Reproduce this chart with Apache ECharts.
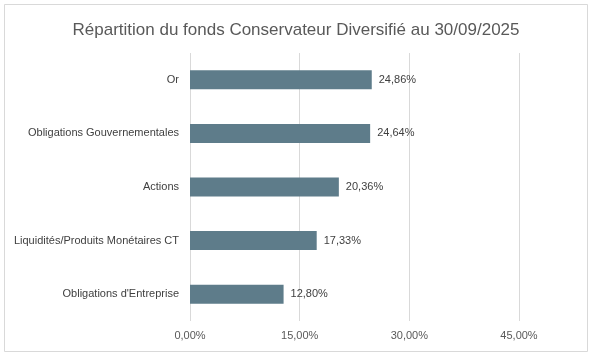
<!DOCTYPE html>
<html><head><meta charset="utf-8">
<script src="https://cdn.jsdelivr.net/npm/echarts@6/dist/echarts.min.js"></script>
<style>html,body{margin:0;padding:0;background:#fff}#c{width:592px;height:356px}</style>
</head><body><div id="c"></div>
<script>
const titleText = 'Répartition du fonds Conservateur Diversifié au 30/09/2025';
const categories = ['Or', 'Obligations Gouvernementales', 'Actions', 'Liquidités/Produits Monétaires CT', "Obligations d'Entreprise"];
const values = [24.86, 24.64, 20.36, 17.33, 12.80];
const tickValues = [0, 15, 30, 45];

const fmt = v => v.toFixed(2).replace('.', ',') + '%';
const FONT = '"Liberation Sans", Arial, sans-serif';

const chart = echarts.init(document.getElementById('c'), null, {renderer: 'canvas'});
chart.setOption({
  animation: false,
  backgroundColor: '#fff',
  title: {
    text: titleText, left: 'center', top: 17,
    textStyle: {fontFamily: FONT, fontSize: 17, fontWeight: 'normal', color: '#595959'}
  },
  graphic: [{
    type: 'rect', shape: {x: 4.5, y: 4.5, width: 583, height: 347},
    style: {fill: 'none', stroke: '#d9d9d9', lineWidth: 1}, silent: true, z: -1
  }],
  grid: {left: 190, right: 73, top: 53, bottom: 35, containLabel: false},
  xAxis: {
    type: 'value', min: 0, max: tickValues[tickValues.length - 1], interval: 15,
    axisLine: {show: false}, axisTick: {show: false},
    splitLine: {show: true, lineStyle: {color: '#d9d9d9', width: 1}},
    axisLabel: {
      formatter: v => fmt(v),
      fontFamily: FONT, fontSize: 11, color: '#595959', margin: 9
    }
  },
  yAxis: {
    type: 'category', data: categories, inverse: true,
    axisLine: {show: false}, axisTick: {show: false},
    axisLabel: {fontFamily: FONT, fontSize: 11, color: '#404040', margin: 11}
  },
  series: [{
    type: 'bar', data: values, barWidth: 19,
    itemStyle: {color: '#5e7c8a'},
    label: {show: true, position: 'right', distance: 7, formatter: p => fmt(p.value),
      fontFamily: FONT, fontSize: 11, color: '#404040'}
  }]
});
</script></body></html>
